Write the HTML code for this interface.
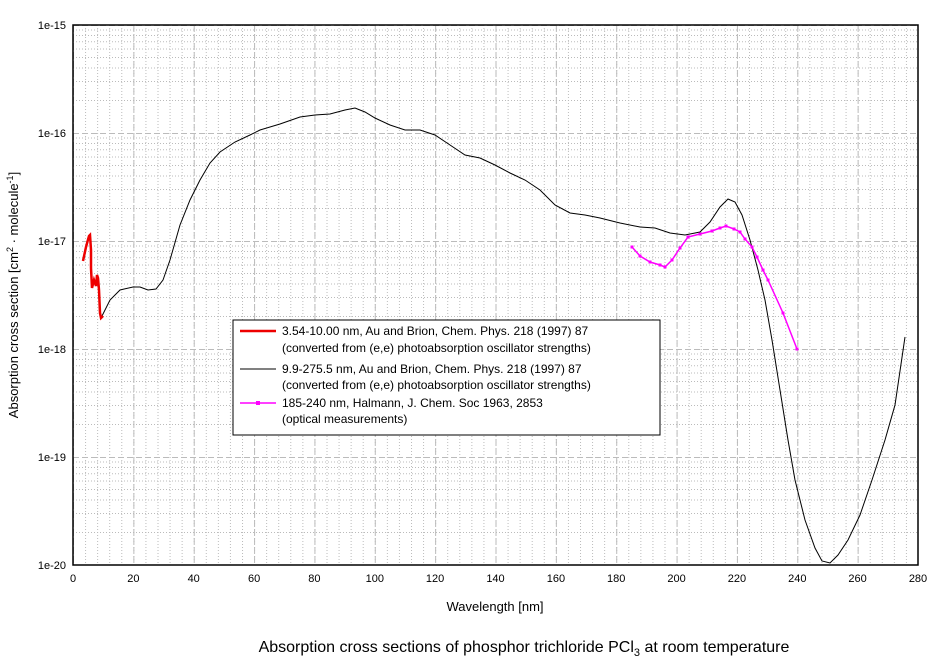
<!DOCTYPE html><html><head><style>body{margin:0;background:#fff}svg{display:block;font-family:"Liberation Sans",sans-serif}</style></head><body>
<svg width="944" height="665" xmlns="http://www.w3.org/2000/svg">
<defs>
<pattern id="vmin" patternUnits="userSpaceOnUse" x="73" y="25" width="12.0714" height="540"><line x1="0.5" y1="0" x2="0.5" y2="540" stroke="#bbb" stroke-dasharray="1,2"/></pattern>
<pattern id="vmaj" patternUnits="userSpaceOnUse" x="73" y="25" width="60.357" height="540"><line x1="0.5" y1="0" x2="0.5" y2="540" stroke="#bbb" stroke-dasharray="6,3"/></pattern>
<pattern id="hmin" patternUnits="userSpaceOnUse" x="73" y="25" width="845" height="108">
<g stroke="#bbb" stroke-dasharray="1,2"><line x1="0" y1="75.5" x2="845" y2="75.5"/><line x1="0" y1="56.5" x2="845" y2="56.5"/><line x1="0" y1="43" x2="845" y2="43"/><line x1="0" y1="32.5" x2="845" y2="32.5"/><line x1="0" y1="24" x2="845" y2="24"/><line x1="0" y1="16.7" x2="845" y2="16.7"/><line x1="0" y1="10.5" x2="845" y2="10.5"/><line x1="0" y1="5" x2="845" y2="5"/></g>
<line x1="0" y1="0.5" x2="845" y2="0.5" stroke="#bbb" stroke-dasharray="6,3"/></pattern>
</defs>
<rect x="73" y="25" width="845" height="540" fill="url(#hmin)"/>
<rect x="73" y="25" width="845" height="540" fill="url(#vmin)"/>
<rect x="73" y="25" width="845" height="540" fill="url(#vmaj)"/>
<rect x="73" y="25" width="845" height="540" fill="none" stroke="#000" stroke-width="1.5"/>
<g font-size="11" text-anchor="end" fill="#000">
<text x="66" y="29">1e-15</text><text x="66" y="137">1e-16</text><text x="66" y="245">1e-17</text><text x="66" y="353">1e-18</text><text x="66" y="461">1e-19</text><text x="66" y="569">1e-20</text>
</g>
<g font-size="11" text-anchor="middle">
<text x="73" y="582">0</text><text x="133.4" y="582">20</text><text x="193.7" y="582">40</text><text x="254.1" y="582">60</text><text x="314.4" y="582">80</text><text x="374.8" y="582">100</text><text x="435.1" y="582">120</text><text x="495.5" y="582">140</text><text x="555.9" y="582">160</text><text x="616.2" y="582">180</text><text x="676.6" y="582">200</text><text x="736.9" y="582">220</text><text x="797.3" y="582">240</text><text x="857.6" y="582">260</text><text x="918" y="582">280</text>
</g>
<text x="495" y="611" font-size="13" text-anchor="middle">Wavelength [nm]</text>
<text transform="translate(18,295) rotate(-90)" font-size="13" text-anchor="middle">Absorption cross section [cm<tspan dy="-5" font-size="9">2</tspan><tspan dy="5"> · molecule</tspan><tspan dy="-5" font-size="9">-1</tspan><tspan dy="5">]</tspan></text>
<text x="524" y="652" font-size="16" text-anchor="middle">Absorption cross sections of phosphor trichloride PCl<tspan dy="4" font-size="11">3</tspan><tspan dy="-4"> at room temperature</tspan></text>
<polyline fill="none" stroke="#000" stroke-width="1" points="101,318 110,300 120,290 133,287 140,287 148,290 156,289 163,280 170,260 180,225 190,200 200,180 210,163 220,152 235,142 250,135 260,130 280,124 300,117 315,115 330,114 345,110 355,108 365,112 375,118 390,125 405,130 420,130 435,135 450,145 465,155 480,158 495,165 510,173 525,180 540,190 555,205 570,213 585,215 600,218 620,223 640,227 655,228 670,233 685,235 700,232 710,222 720,207 728,199 735,202 742,215 750,240 758,270 765,300 772,340 780,390 788,440 795,480 805,520 815,548 822,561 830,563 838,555 848,540 860,515 872,480 885,440 895,405 905,337"/>
<polyline fill="none" stroke="#f0f" stroke-width="1.5" points="632,247 640,256 650,262 660,265 665,267 672,260 680,248 688,237 700,234 712,231 720,228 726,226 734,229 740,232 745,239 752,247 757,257 763,270 768,280 783,313 797,349"/>
<g fill="#f0f">
<rect x="630.5" y="245.5" width="3" height="3"/><rect x="638.5" y="254.5" width="3" height="3"/><rect x="648.5" y="260.5" width="3" height="3"/><rect x="658.5" y="263.5" width="3" height="3"/><rect x="663.5" y="265.5" width="3" height="3"/><rect x="670.5" y="258.5" width="3" height="3"/><rect x="678.5" y="246.5" width="3" height="3"/><rect x="686.5" y="235.5" width="3" height="3"/><rect x="698.5" y="232.5" width="3" height="3"/><rect x="710.5" y="229.5" width="3" height="3"/><rect x="718.5" y="226.5" width="3" height="3"/><rect x="724.5" y="224.5" width="3" height="3"/><rect x="732.5" y="227.5" width="3" height="3"/><rect x="738.5" y="230.5" width="3" height="3"/><rect x="743.5" y="237.5" width="3" height="3"/><rect x="750.5" y="245.5" width="3" height="3"/><rect x="755.5" y="255.5" width="3" height="3"/><rect x="761.5" y="268.5" width="3" height="3"/><rect x="766.5" y="278.5" width="3" height="3"/><rect x="781.5" y="311.5" width="3" height="3"/><rect x="795.5" y="347.5" width="3" height="3"/>
</g>
<polyline fill="none" stroke="#e00" stroke-width="2.5" points="83,261 86,247 89,236 90,235 91,250 91,268 92,288 94,280 96,286 97,275 98,278 99,290 100,313 101,318 103,316"/>
<rect x="233" y="320" width="427" height="115" fill="#fff" stroke="#000"/>
<line x1="240" y1="331" x2="276" y2="331" stroke="#e00" stroke-width="2.5"/>
<line x1="240" y1="369" x2="276" y2="369" stroke="#000"/>
<line x1="240" y1="403" x2="276" y2="403" stroke="#f0f" stroke-width="1.5"/><rect x="256" y="401" width="4" height="4" fill="#f0f"/>
<g font-size="12"><text x="282" y="335">3.54-10.00 nm, Au and Brion, Chem. Phys. 218 (1997) 87</text><text x="282" y="352">(converted from (e,e) photoabsorption oscillator strengths)</text>
<text x="282" y="373">9.9-275.5 nm, Au and Brion, Chem. Phys. 218 (1997) 87</text><text x="282" y="389">(converted from (e,e) photoabsorption oscillator strengths)</text>
<text x="282" y="407">185-240 nm, Halmann, J. Chem. Soc 1963, 2853</text><text x="282" y="423">(optical measurements)</text></g>
</svg></body></html>
